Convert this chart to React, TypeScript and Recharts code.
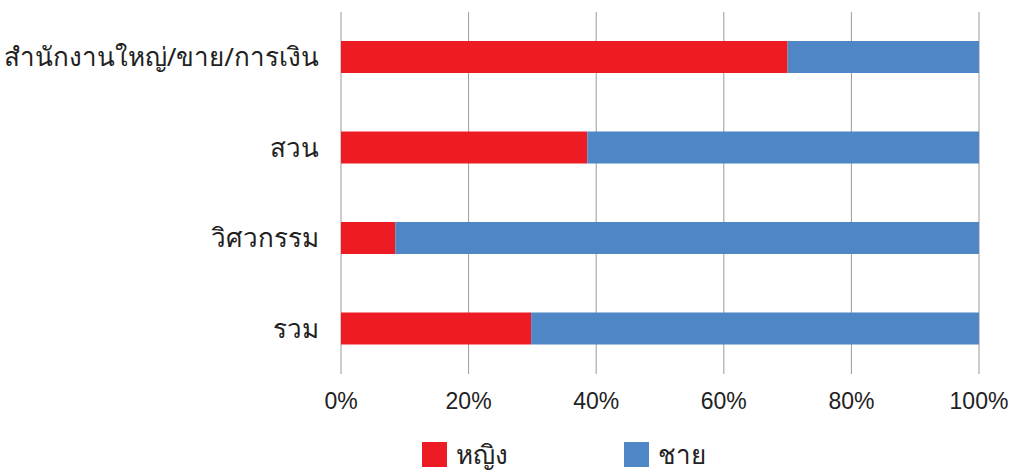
import { Bar, BarChart, CartesianGrid, Legend, XAxis, YAxis } from "recharts";

const categories = ["สำนักงานใหญ่/ขาย/การเงิน", "สวน", "วิศวกรรม", "รวม"];
const women = [70, 38.6, 8.5, 29.8];
const men = women.map((w) => +(100 - w).toFixed(1));
const xTicks = [0, 20, 40, 60, 80, 100];

const RED = "#ED1C24";
const BLUE = "#4E86C6";
const FONT = "'Noto Sans', 'Liberation Sans', Arial, sans-serif";
const NUM_FONT = "'Liberation Sans', Arial, sans-serif";

const data = categories.map((name, i) => ({ name, women: women[i], men: men[i] }));

function LegendBox() {
  const items = [
    { label: "หญิง", color: RED },
    { label: "ชาย", color: BLUE },
  ];
  return (
    <div style={{ display: "flex", paddingLeft: 422, gap: 116, fontFamily: FONT, fontSize: 26, color: "#222" }}>
      {items.map((it) => (
        <div key={it.label} style={{ display: "flex", alignItems: "center", gap: 9 }}>
          <span style={{ width: 25, height: 25, background: it.color, display: "inline-block" }} />
          <span>{it.label}</span>
        </div>
      ))}
    </div>
  );
}

export default function App() {
  return (
    <div style={{ position: "absolute", left: 0, top: 0, background: "#fff" }}>
      <BarChart
        width={1013}
        height={473}
        data={data}
        layout="vertical"
        barSize={32}
        margin={{ top: 12, right: 34, left: 0, bottom: 0 }}
      >
        <CartesianGrid stroke="#9a9a9a" horizontal={false} />
        <XAxis
          type="number"
          domain={[0, 100]}
          ticks={xTicks}
          tickFormatter={(v) => `${v}%`}
          axisLine={false}
          tickLine={false}
          tickSize={0}
          tickMargin={19}
          height={60}
          tick={{ fontSize: 23, fill: "#222", fontFamily: NUM_FONT }}
        />
        <YAxis
          type="category"
          dataKey="name"
          width={341}
          axisLine={false}
          tickLine={false}
          tickSize={0}
          tickMargin={22}
          tick={{ fontSize: 26, fill: "#222", fontFamily: FONT }}
        />
        <Legend
          verticalAlign="bottom"
          content={() => <LegendBox />}
          wrapperStyle={{ height: 39, bottom: 0, left: 0, width: 1013 }}
        />
        <Bar dataKey="women" stackId="a" fill={RED} isAnimationActive={false} />
        <Bar dataKey="men" stackId="a" fill={BLUE} isAnimationActive={false} />
      </BarChart>
    </div>
  );
}
